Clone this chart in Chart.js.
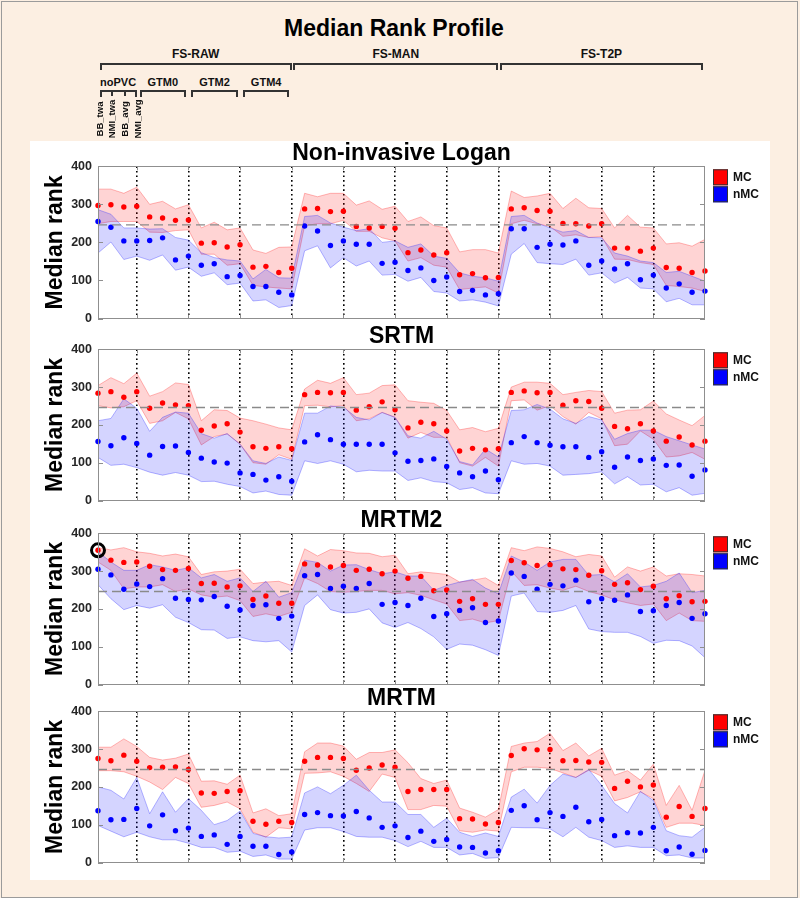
<!DOCTYPE html>
<html><head><meta charset="utf-8">
<script src="https://cdn.jsdelivr.net/npm/chart.js@4.4.1/dist/chart.umd.min.js"></script>
<style>
html,body{margin:0;padding:0;background:#fcefe2;width:800px;height:898px;overflow:hidden;}
#frame{position:absolute;left:1px;top:1px;width:795px;height:895px;border:1px solid #9b9b9b;background:#fcefe2;}
#panel{position:absolute;left:30px;top:141px;width:740px;height:739px;background:#fff;}
canvas{position:absolute;left:0;}
.hdr{position:absolute;font-family:"Liberation Sans",Arial,Helvetica,sans-serif;font-weight:bold;color:#111;white-space:nowrap;}
.br{position:absolute;border:2px solid #333;border-bottom:none;height:7px;box-sizing:border-box;}
.tk{position:absolute;width:2px;height:6px;background:#333;}
</style></head>
<body>
<div id="frame"></div><div id="panel"></div>
<canvas id="c0" width="792" height="191" style="top:141px"></canvas>
<canvas id="c1" width="792" height="190" style="top:324px"></canvas>
<canvas id="c2" width="792" height="190" style="top:508px"></canvas>
<canvas id="c3" width="792" height="190" style="top:686px"></canvas>
<script>
const FONT = '"Liberation Sans", Arial, Helvetica, sans-serif';

// ---- categories ----
const pipelines = ['FS-RAW', 'FS-MAN', 'FS-T2P'];
const pvcMethods = ['noPVC', 'GTM0', 'GTM2', 'GTM4'];
const kineticInputs = ['BB_twa', 'NMI_twa', 'BB_avg', 'NMI_avg'];
const seriesNames = ['MC', 'nMC'];
const yTicks = [0, 100, 200, 300, 400];
const referenceRank = 246;
const mainTitle = 'Median Rank Profile';
const yTitle = 'Median rank';
const panelTitles = ['Non-invasive Logan', 'SRTM', 'MRTM2', 'MRTM'];

// ---- Non-invasive Logan ----
const loganMcMed  = [297,299,293,295, 267,264,258,259, 198,199,188,194, 135,137,121,132, 288,289,281,282, 242,238,242,237, 173,180,167,173, 115,118,107,108, 288,291,284,282, 250,249,243,249, 185,185,177,185, 134,132,121,125];
const loganMcHi   = [340,340,329,345, 300,308,288,299, 238,253,233,238, 180,171,187,188, 329,320,329,329, 298,309,287,295, 255,267,244,238, 175,181,181,172, 335,318,322,329, 289,316,291,289, 238,271,240,238, 196,199,190,208];
const loganMcLo   = [249,255,255,255, 227,226,231,233, 169,169,140,144, 87,83,80,78, 244,249,249,258, 229,229,212,204, 151,160,140,135, 76,80,83,67, 249,258,249,242, 216,220,213,215, 156,155,147,142, 87,84,80,71];
const loganNmcMed = [255,240,204,204, 205,212,154,164, 140,144,110,113, 84,84,69,62, 243,230,192,204, 195,195,145,148, 126,133,100,109, 71,74,62,65, 236,236,187,195, 193,204,140,151, 130,144,102,114, 80,91,69,72];
const loganNmcHi  = [286,274,238,238, 235,236,213,206, 173,160,154,151, 104,129,107,106, 268,271,251,240, 231,236,200,204, 187,196,164,158, 120,111,107,98, 268,271,251,238, 227,231,213,212, 172,164,151,147, 121,124,111,98];
const loganNmcLo  = [172,201,155,164, 153,167,127,135, 111,120,89,93, 46,49,29,34, 178,191,133,160, 138,151,114,116, 98,108,71,67, 46,49,43,33, 169,197,147,144, 142,156,114,120, 93,108,80,78, 44,53,36,36];

// ---- SRTM ----
const srtmMcMed  = [284,288,273,288, 244,258,253,251, 186,197,203,181, 142,138,142,137, 280,286,285,286, 239,248,261,240, 192,207,203,184, 131,138,134,137, 286,290,285,286, 252,264,262,244, 196,190,203,184, 157,168,147,157];
const srtmMcHi   = [304,325,309,337, 276,288,311,307, 211,240,238,218, 211,202,192,187, 295,318,310,325, 280,284,304,306, 264,260,257,238, 187,193,182,191, 300,313,313,310, 280,286,291,288, 231,239,240,263, 229,213,198,225];
const srtmMcLo   = [251,245,248,264, 204,211,233,216, 147,169,176,149, 100,96,121,109, 251,252,248,251, 211,216,233,220, 165,180,167,167, 100,91,114,91, 264,266,239,251, 222,202,233,216, 145,149,184,162, 115,118,127,109];
const srtmNmcMed = [156,145,166,151, 120,143,144,127, 112,102,99,73, 69,54,63,51, 155,174,161,149, 149,149,149,126, 104,106,110,90, 73,63,78,55, 153,169,153,146, 142,142,114,129, 88,115,106,110, 93,94,64,81];
const srtmNmcHi  = [211,217,269,244, 183,220,234,231, 177,165,177,149, 105,98,115,106, 231,231,250,247, 220,213,233,220, 171,165,183,162, 103,94,136,115, 238,240,254,242, 216,204,222,213, 162,177,186,186, 169,158,147,136];
const srtmNmcLo  = [114,93,96,87, 75,67,74,67, 50,51,43,37, 20,25,16,14, 105,98,105,96, 76,80,78,78, 53,60,50,47, 29,34,20,18, 105,96,98,91, 67,69,71,76, 44,63,41,43, 23,34,14,19];

// ---- MRTM2 ----
const mrtm2McMed  = [355,329,323,324, 313,304,302,307, 267,268,258,261, 225,234,215,215, 319,316,311,315, 302,305,293,300, 281,286,248,250, 220,227,212,212, 328,322,315,317, 306,304,289,301, 265,269,251,260, 227,235,219,220];
const mrtm2McHi   = [362,356,362,351, 347,340,345,338, 291,298,300,305, 267,271,273,262, 359,340,357,354, 348,347,338,342, 293,298,295,291, 271,276,282,262, 362,354,364,360, 351,338,344,340, 284,311,300,311, 287,293,291,287];
const mrtm2McLo   = [324,302,253,258, 258,264,246,253, 237,231,234,222, 180,187,180,191, 282,267,246,244, 246,249,249,240, 243,236,224,213, 169,173,163,169, 300,262,264,255, 249,260,246,237, 224,216,209,213, 169,189,169,167];
const mrtm2NmcMed = [305,290,252,266, 259,280,228,225, 224,233,207,197, 209,211,175,181, 288,291,254,260, 254,267,212,217, 209,228,180,187, 196,203,164,168, 295,286,252,265, 261,276,219,227, 223,237,193,195, 209,217,175,187];
const mrtm2NmcHi  = [351,324,302,302, 317,311,302,309, 282,291,273,282, 246,273,231,243, 329,323,300,316, 317,304,293,298, 287,287,249,262, 271,278,255,240, 340,324,302,324, 331,331,289,291, 271,293,258,262, 273,295,243,249];
const mrtm2NmcLo  = [264,227,198,209, 202,211,178,164, 145,144,122,126, 116,113,116,86, 209,237,198,189, 191,200,163,151, 164,148,126,93, 107,104,92,77, 234,242,193,191, 196,209,147,140, 138,138,127,109, 117,116,102,71];
const mrtm2Highlight = [0]; // circled MC point

// ---- MRTM ----
const mrtmMcMed  = [275,269,284,268, 251,252,253,246, 184,183,188,190, 109,101,109,106, 268,278,278,275, 244,250,258,252, 188,193,193,193, 116,115,102,106, 283,301,298,299, 269,270,266,265, 196,215,200,205, 120,148,122,143];
const mrtmMcHi   = [305,305,327,307, 278,271,276,287, 215,216,207,231, 131,142,124,129, 293,316,316,308, 273,291,291,298, 264,222,209,218, 144,133,120,140, 307,316,320,342, 296,316,282,302, 231,243,218,260, 151,204,138,244];
const mrtmMcLo   = [243,243,240,228, 213,193,225,209, 146,151,160,142, 80,67,92,89, 236,237,240,228, 209,188,234,225, 140,140,151,149, 84,80,86,83, 240,252,252,249, 237,225,244,228, 163,172,187,169, 93,104,104,98];
const mrtmNmcMed = [137,113,114,143, 97,126,84,91, 69,73,48,69, 43,43,21,28, 127,132,124,123, 135,118,93,97, 66,83,56,61, 41,40,25,31, 138,150,113,132, 122,146,108,114, 71,79,78,93, 31,41,22,32];
const mrtmNmcHi  = [200,191,168,225, 129,187,133,169, 138,100,111,136, 77,68,65,67, 184,200,182,204, 231,191,160,160, 127,127,93,117, 80,69,78,69, 173,194,157,204, 234,225,246,204, 156,131,188,164, 84,71,67,93];
const mrtmNmcLo  = [98,83,68,80, 68,60,60,51, 40,40,27,30, 16,20,9,9, 86,92,92,82, 69,67,67,58, 42,56,40,40, 20,24,11,13, 93,92,92,89, 68,93,67,58, 40,44,40,40, 18,20,12,12];

// ---- derived structure ----
const nPerPvc = kineticInputs.length;
const nPerPipe = pvcMethods.length * nPerPvc;
const nTotal = pipelines.length * nPerPipe;
const separators = [];
for (let b = 1; b < pipelines.length * pvcMethods.length; b++) separators.push(b * nPerPvc - 1);

const seriesColors = {MC: '#ff0000', nMC: '#0000ff'};
const bandFill = {MC: 'rgba(255,0,0,0.17)', nMC: 'rgba(0,0,255,0.17)'};
const bandEdge = {MC: 'rgba(255,40,40,0.33)', nMC: 'rgba(40,40,255,0.33)'};

const pts = arr => arr.map((v, i) => ({x: i, y: v}));

const framePlugin = {
  id: 'frame',
  afterDatasetsDraw(chart) {
    const {ctx, chartArea: a, scales: {x, y}} = chart;
    ctx.save();
    const yr = y.getPixelForValue(referenceRank);
    ctx.strokeStyle = '#8a8a8a'; ctx.lineWidth = 1.4; ctx.setLineDash([9, 5]);
    ctx.beginPath(); ctx.moveTo(a.left, yr); ctx.lineTo(a.right, yr); ctx.stroke();
    ctx.setLineDash([]);
    ctx.strokeStyle = '#8f8f8f'; ctx.lineWidth = 1;
    ctx.beginPath();
    yTicks.forEach(v => {
      const py = Math.round(y.getPixelForValue(v)) + 0.5;
      ctx.moveTo(a.left, py); ctx.lineTo(a.left + 5, py);
      ctx.moveTo(a.right, py); ctx.lineTo(a.right - 5, py);
    });
    separators.forEach(v => {
      const pxv = Math.round(x.getPixelForValue(v)) + 0.5;
      ctx.moveTo(pxv, a.bottom); ctx.lineTo(pxv, a.bottom - 4);
      ctx.moveTo(pxv, a.top); ctx.lineTo(pxv, a.top + 4);
    });
    ctx.stroke();
    ctx.strokeStyle = '#8f8f8f';
    ctx.strokeRect(Math.round(a.left) + 0.5, Math.round(a.top) + 0.5, Math.round(a.right - a.left) - 1, Math.round(a.bottom - a.top));
    ctx.restore();
  },
  afterDraw(chart) {
    const {ctx, chartArea: a} = chart;
    ctx.save();
    const lx = a.right + 8, ly = a.top + 3;
    chart.data.datasets.filter(d => seriesNames.includes(d.label)).forEach((d, k) => {
      const yy = ly + k * 17;
      ctx.fillStyle = seriesColors[d.label];
      ctx.fillRect(lx, yy, 15, 16);
      ctx.strokeStyle = '#333'; ctx.lineWidth = 1;
      ctx.strokeRect(lx + 0.5, yy + 0.5, 14, 15);
      ctx.fillStyle = '#111';
      ctx.font = 'bold 12px ' + FONT;
      ctx.textBaseline = 'middle';
      ctx.fillText(d.label, lx + 20, yy + 8.5);
    });
    ctx.restore();
  }
};

function makePanel(id, title, mcMed, mcLo, mcHi, nmcMed, nmcLo, nmcHi, highlight) {
  const datasets = [
    {label: 'MC', data: pts(mcMed), showLine: false, pointRadius: 2.7, pointBorderWidth: 0,
     backgroundColor: seriesColors.MC, borderColor: seriesColors.MC, order: 1, clip: false},
    {label: 'nMC', data: pts(nmcMed), showLine: false, pointRadius: 2.7, pointBorderWidth: 0,
     backgroundColor: seriesColors.nMC, borderColor: seriesColors.nMC, order: 1, clip: false},
    {label: 'MC upper', type: 'line', data: pts(mcHi), fill: '+1', backgroundColor: bandFill.MC,
     borderColor: bandEdge.MC, borderWidth: 1, pointRadius: 0, tension: 0, order: 3},
    {label: 'MC lower', type: 'line', data: pts(mcLo), fill: false,
     borderColor: bandEdge.MC, borderWidth: 1, pointRadius: 0, tension: 0, order: 3},
    {label: 'nMC upper', type: 'line', data: pts(nmcHi), fill: '+1', backgroundColor: bandFill.nMC,
     borderColor: bandEdge.nMC, borderWidth: 1, pointRadius: 0, tension: 0, order: 2},
    {label: 'nMC lower', type: 'line', data: pts(nmcLo), fill: false,
     borderColor: bandEdge.nMC, borderWidth: 1, pointRadius: 0, tension: 0, order: 2}
  ];
  if (highlight) {
    datasets.push({label: 'highlight', data: highlight.map(i => ({x: i, y: mcMed[i]})), showLine: false,
      pointRadius: 6.5, pointBorderWidth: 3, borderColor: '#000', backgroundColor: 'rgba(0,0,0,0)', order: 0, clip: false});
  }
  return new Chart(document.getElementById(id), {
    type: 'scatter',
    data: {datasets},
    options: {
      responsive: false, animation: false, devicePixelRatio: 1,
      layout: {padding: {left: 42, right: 87, top: 0, bottom: 1}},
      plugins: {
        legend: {display: false}, tooltip: {enabled: false},
        title: {display: true, text: title, fullSize: false, color: '#000',
          font: {family: FONT, size: 23, weight: 'bold', lineHeight: 1.1}, padding: {top: 0, bottom: 0}}
      },
      scales: {
        x: {type: 'linear', min: 0, max: nTotal - 1, offset: false,
          afterBuildTicks: s => { s.ticks = separators.map(v => ({value: v})); },
          ticks: {display: false, autoSkip: false},
          grid: {color: '#000', lineWidth: 1.6, drawTicks: false},
          border: {display: false, dash: [1.6, 3]},
          afterFit: s => { s.height = 0; }},
        y: {min: yTicks[0], max: yTicks[yTicks.length - 1],
          afterBuildTicks: s => { s.ticks = yTicks.map(v => ({value: v})); },
          ticks: {font: {family: FONT, size: 12.5, weight: 'bold'}, color: '#262626', padding: 6},
          grid: {display: false, drawTicks: false}, border: {display: false},
          title: {display: true, text: yTitle, color: '#000', padding: 0,
            font: {family: FONT, size: 23, weight: 'bold', lineHeight: 1.2}},
          afterFit: s => { s.width = 56; }}
      }
    },
    plugins: [framePlugin]
  });
}

const charts = [
  makePanel('c0', panelTitles[0], loganMcMed, loganMcLo, loganMcHi, loganNmcMed, loganNmcLo, loganNmcHi),
  makePanel('c1', panelTitles[1], srtmMcMed, srtmMcLo, srtmMcHi, srtmNmcMed, srtmNmcLo, srtmNmcHi),
  makePanel('c2', panelTitles[2], mrtm2McMed, mrtm2McLo, mrtm2McHi, mrtm2NmcMed, mrtm2NmcLo, mrtm2NmcHi, mrtm2Highlight),
  makePanel('c3', panelTitles[3], mrtmMcMed, mrtmMcLo, mrtmMcHi, mrtmNmcMed, mrtmNmcLo, mrtmNmcHi)
];

// ---- header (hierarchy of categories), positioned from the chart's x scale ----
const xs = charts[0].scales.x;
const px = v => xs.getPixelForValue(v);
function addDiv(cls, css, text) {
  const d = document.createElement('div');
  d.className = cls; Object.assign(d.style, css);
  if (text !== undefined) d.textContent = text;
  document.body.appendChild(d); return d;
}
addDiv('hdr', {left: '0px', width: '788px', top: '17px', fontSize: '23px', lineHeight: '23px', textAlign: 'center', color: '#000'}, mainTitle);
pipelines.forEach((p, g) => {
  const s = g === 0 ? 0 : g * nPerPipe - 1;
  const e = Math.min(nTotal - 1, (g + 1) * nPerPipe - 1);
  const L = px(s) + 1.5, R = px(e) - (g === pipelines.length - 1 ? 2 : 0);
  addDiv('br', {left: L + 'px', width: (R - L) + 'px', top: '63px'});
  addDiv('hdr', {left: (L - 50) + 'px', width: (R - L + 100) + 'px', top: '48px', fontSize: '12px', lineHeight: '12px', textAlign: 'center'}, p);
});
pvcMethods.forEach((m, k) => {
  const s = k === 0 ? 0 : k * nPerPvc - 1;
  const e = (k + 1) * nPerPvc - 1;
  const L = px(s) + (k === 0 ? 1.5 : 3), R = px(e) - (k === 0 ? 0 : 2.5);
  addDiv('br', {left: L + 'px', width: (R - L) + 'px', top: '90px'});
  addDiv('hdr', {left: (L - 30) + 'px', width: (R - L + 60) + 'px', top: '77px', fontSize: '11px', lineHeight: '11px', textAlign: 'center'}, m);
});
kineticInputs.forEach((t, i) => {
  const cx = px(i) + 1.5;
  if (i > 0 && i < kineticInputs.length - 1) addDiv('tk', {left: (cx - 1) + 'px', top: '90px'});
  addDiv('hdr', {left: (cx - 30) + 'px', width: '60px', top: (118.5 - 5) + 'px', fontSize: '9.5px', lineHeight: '10px', textAlign: 'center', transform: 'rotate(-90deg)'}, t);
});
</script>
</body></html>
